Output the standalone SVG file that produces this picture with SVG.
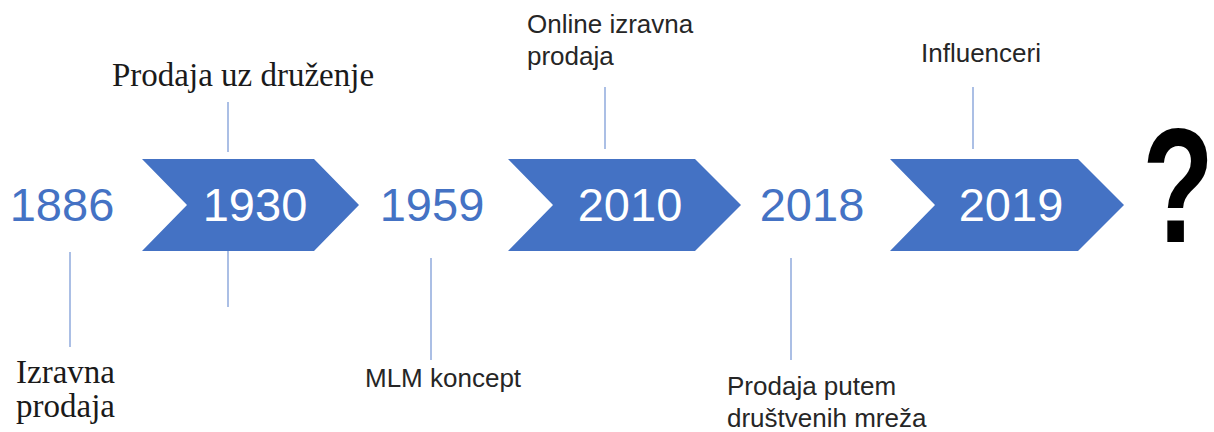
<svg xmlns="http://www.w3.org/2000/svg" width="1214" height="432" viewBox="0 0 1214 432">
<style>
.chev{fill:#4472C4;}
.yr{font-family:"Liberation Sans",Arial,sans-serif;font-size:47px;text-anchor:middle;}
.yb{fill:#4472C4;}
.yw{fill:#FFFFFF;}
.sans{font-family:"Liberation Sans",Arial,sans-serif;font-size:26px;fill:#262626;}
.serif{font-family:"Liberation Serif","Times New Roman",serif;font-size:33px;fill:#1a1a1a;}
.ln{stroke:#8FAADC;stroke-width:1.5;fill:none;}
</style>
<rect width="1214" height="432" fill="#FFFFFF"/>
<g id="connectors">
<line class="ln" x1="70" y1="252" x2="70" y2="347"/>
<line class="ln" x1="228" y1="102" x2="228" y2="152"/>
<line class="ln" x1="228" y1="251" x2="228" y2="307"/>
<line class="ln" x1="431" y1="258" x2="431" y2="360"/>
<line class="ln" x1="605" y1="87" x2="605" y2="149"/>
<line class="ln" x1="791" y1="258" x2="791" y2="360"/>
<line class="ln" x1="973" y1="87" x2="973" y2="149"/>
</g>
<g id="n1886">
<text class="yr yb" x="62" y="221">1886</text>
<text class="serif" x="16" y="383">Izravna</text>
<text class="serif" x="16" y="417">prodaja</text>
</g>
<g id="n1930">
<polygon class="chev" points="142,159 314,159 359,205 314,251 142,251 187,205"/>
<text class="yr yw" x="255" y="221">1930</text>
<text class="serif" x="112" y="86">Prodaja uz druženje</text>
</g>
<g id="n1959">
<text class="yr yb" x="432" y="221">1959</text>
<text class="sans" x="365" y="387">MLM koncept</text>
</g>
<g id="n2010">
<polygon class="chev" points="508,159 695,159 741,205 695,251 508,251 553,205"/>
<text class="yr yw" x="630" y="221">2010</text>
<text class="sans" x="527" y="33">Online izravna</text>
<text class="sans" x="527" y="65">prodaja</text>
</g>
<g id="n2018">
<text class="yr yb" x="812" y="221">2018</text>
<text class="sans" x="727" y="395">Prodaja putem</text>
<text class="sans" x="727" y="427">društvenih mreža</text>
</g>
<g id="n2019">
<polygon class="chev" points="890,159 1078,159 1124,205 1078,251 890,251 935,205"/>
<text class="yr yw" x="1011" y="221">2019</text>
<text class="sans" x="921" y="62">Influenceri</text>
</g>
<g id="nq">
<text transform="translate(1178,242) scale(0.72,1)" x="0" y="0" style="font-family:'Liberation Sans',Arial,sans-serif;font-weight:bold;font-size:163px;fill:#000;text-anchor:middle;">?</text>
</g>
</svg>
